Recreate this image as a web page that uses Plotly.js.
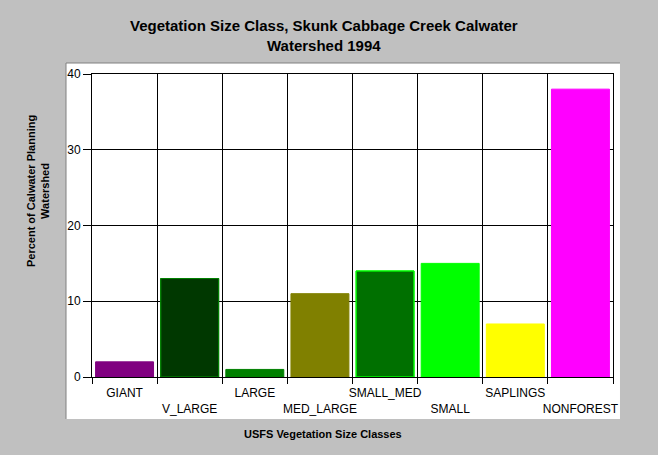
<!DOCTYPE html>
<html>
<head>
<meta charset="utf-8">
<script src="https://cdn.plot.ly/plotly-3.0.1.min.js"></script>
<style>html,body{margin:0;padding:0;background:#C0C0C0;}#chart{width:658px;height:455px;}</style>
</head>
<body>
<div id="chart"></div>
<script>
var categories = ["GIANT", "V_LARGE", "LARGE", "MED_LARGE", "SMALL_MED", "SMALL", "SAPLINGS", "NONFOREST"];
var values = [2, 13, 1, 11, 14, 15, 7, 38];
var barColors = ["#800080", "#008000", "#008000", "#808000", "#00FF00", "#00FF00", "#FFFF00", "#FF00FF"];
var patterned = [false, true, false, false, true, false, false, false];
var yTicks = [0, 10, 20, 30, 40];
var tickText = categories.map(function (c, i) { return i % 2 === 1 ? "<br>" + c : c; });

var font = "Liberation Sans, Arial, sans-serif";

function pick(arr, want) {
  return arr.filter(function (_, i) { return patterned[i] === want; });
}

var plainTrace = {
  type: "bar",
  x: pick(categories, false),
  y: pick(values, false),
  width: 0.89,
  marker: { color: pick(barColors, false), line: { color: pick(barColors, false), width: 1 } },
  hoverinfo: "none"
};

// black backing for the checkered bars
var patternBase = {
  type: "bar",
  x: pick(categories, true),
  y: pick(values, true),
  width: 0.89,
  marker: { color: "#000000", line: { color: pick(barColors, true), width: 1 } },
  hoverinfo: "none"
};

var patternTrace = {
  type: "bar",
  x: pick(categories, true),
  y: pick(values, true),
  width: 0.89,
  marker: {
    color: pick(barColors, true),
    line: { color: pick(barColors, true), width: 1 },
    pattern: { shape: ".", size: 2, solidity: 0.5, fillmode: "replace", bgcolor: "rgba(0,0,0,0)" }
  },
  hoverinfo: "none"
};

var layout = {
  width: 658,
  height: 455,
  margin: { l: 92, r: 45, t: 74, b: 78 },
  paper_bgcolor: "#C0C0C0",
  plot_bgcolor: "#FFFFFF",
  showlegend: false,
  barmode: "overlay",
  font: { family: font, size: 12, color: "#000000" },
  xaxis: {
    type: "category",
    categoryorder: "array",
    categoryarray: categories,
    range: [-0.5, 7.5],
    tickson: "boundaries",
    tickmode: "array",
    tickvals: categories,
    ticktext: tickText,
    tickangle: 0,
    ticks: "outside",
    ticklen: 6,
    ticklabelstandoff: 5,
    tickcolor: "#000000",
    showgrid: true,
    gridcolor: "#000000",
    gridwidth: 1,
    showline: true,
    linecolor: "#000000",
    linewidth: 1,
    mirror: true,
    tickfont: { family: font, size: 12, color: "#000000" },
    fixedrange: true
  },
  yaxis: {
    range: [0, 40],
    tickmode: "array",
    tickvals: yTicks,
    ticks: "outside",
    ticklen: 8,
    tickcolor: "#000000",
    showgrid: true,
    gridcolor: "#000000",
    gridwidth: 1,
    zeroline: false,
    showline: true,
    linecolor: "#000000",
    linewidth: 1,
    mirror: true,
    tickfont: { family: font, size: 12, color: "#000000" },
    fixedrange: true
  },
  shapes: [
    { type: "rect", xref: "paper", yref: "paper", x0: -0.0499, x1: 1.0134, y0: -0.1386, y1: 1.0363,
      fillcolor: "#FFFFFF", line: { width: 0 }, layer: "below" },
    { type: "line", xref: "paper", yref: "paper", x0: -0.0499, x1: 1.0134, y0: 1.0363, y1: 1.0363,
      line: { color: "#808080", width: 1 }, layer: "below" },
    { type: "line", xref: "paper", yref: "paper", x0: -0.0499, x1: -0.0499, y0: -0.1386, y1: 1.0363,
      line: { color: "#808080", width: 1 }, layer: "below" }
  ],
  annotations: [
    { text: "<b>Vegetation Size Class, Skunk Cabbage Creek Calwater<br>Watershed 1994</b>",
      xref: "paper", yref: "paper", x: 0.4453, y: (377 - 35) / 303, xanchor: "center", yanchor: "middle",
      showarrow: false, font: { family: font, size: 15, color: "#000000" } },
    { text: "<b>USFS Vegetation Size Classes</b>",
      xref: "paper", yref: "paper", x: 0.4434, y: (377 - 433.5) / 303, xanchor: "center", yanchor: "middle",
      showarrow: false, font: { family: font, size: 11, color: "#000000" } },
    { text: "<b>Percent of Calwater Planning<br>Watershed</b>",
      xref: "paper", yref: "paper", x: (37.5 - 92) / 521, y: 0.612, xanchor: "center", yanchor: "middle",
      textangle: -90, showarrow: false, font: { family: font, size: 11, color: "#000000" } }
  ]
};

Plotly.newPlot("chart", [plainTrace, patternBase, patternTrace], layout, { staticPlot: true, displayModeBar: false });
</script>
</body>
</html>
